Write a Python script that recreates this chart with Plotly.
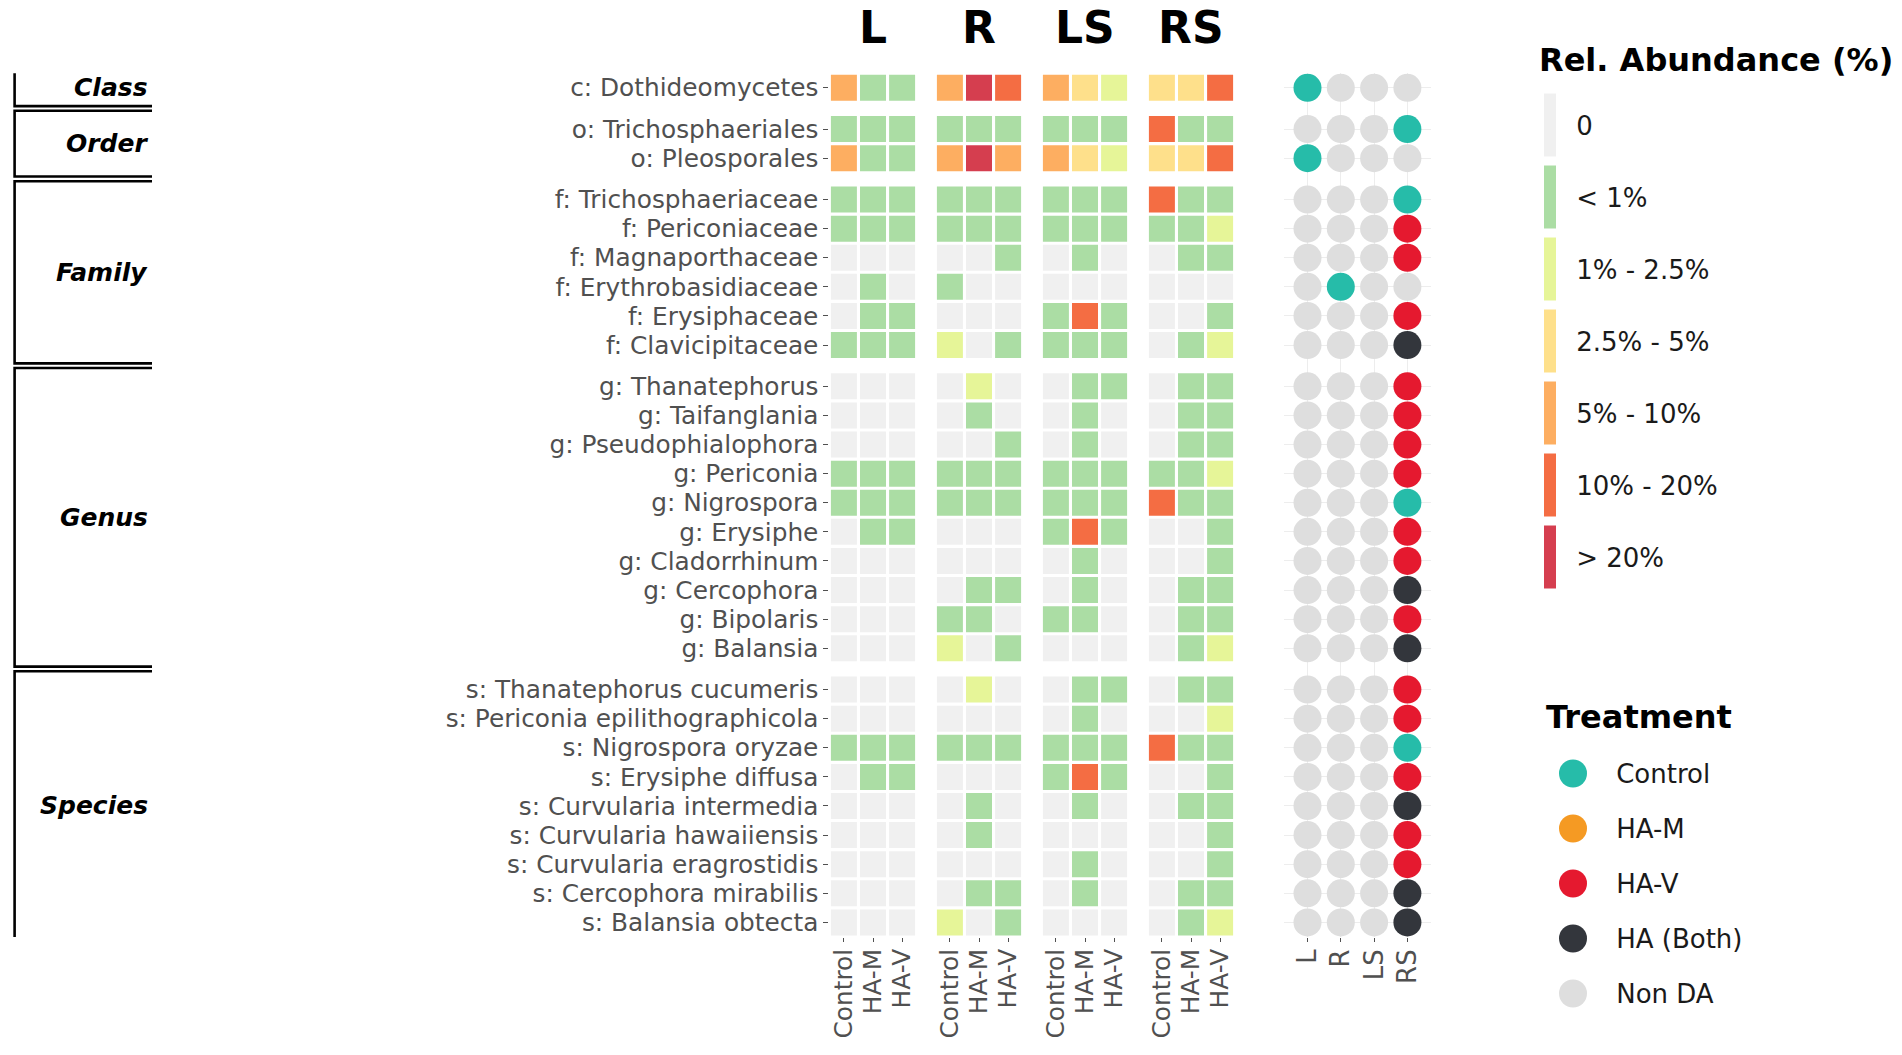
import plotly.graph_objects as go

# window is 1902x1055; body margin is removed by a post script
OFF = 0
FIG_W, FIG_H = 1902, 1055

# ---------------- data ----------------
rank_names = ["Class", "Order", "Family", "Genus", "Species"]
class_taxa = ["c: Dothideomycetes"]
order_taxa = ["o: Trichosphaeriales", "o: Pleosporales"]
family_taxa = ["f: Trichosphaeriaceae", "f: Periconiaceae", "f: Magnaporthaceae",
               "f: Erythrobasidiaceae", "f: Erysiphaceae", "f: Clavicipitaceae"]
genus_taxa = ["g: Thanatephorus", "g: Taifanglania", "g: Pseudophialophora", "g: Periconia",
              "g: Nigrospora", "g: Erysiphe", "g: Cladorrhinum", "g: Cercophora",
              "g: Bipolaris", "g: Balansia"]
species_taxa = ["s: Thanatephorus cucumeris", "s: Periconia epilithographicola",
                "s: Nigrospora oryzae", "s: Erysiphe diffusa", "s: Curvularia intermedia",
                "s: Curvularia hawaiiensis", "s: Curvularia eragrostidis",
                "s: Cercophora mirabilis", "s: Balansia obtecta"]

compartments = ["L", "R", "LS", "RS"]
treatments = ["Control", "HA-M", "HA-V"]
abundance_labels = ["0", "< 1%", "1% - 2.5%", "2.5% - 5%", "5% - 10%", "10% - 20%", "> 20%"]
treatment_labels = ["Control", "HA-M", "HA-V", "HA (Both)", "Non DA"]

# abundance class index (0..6) per taxon row, [Control, HA-M, HA-V]
abund_L = [[4, 1, 1], [1, 1, 1], [4, 1, 1], [1, 1, 1], [1, 1, 1], [0, 0, 0], [0, 1, 0],
           [0, 1, 1], [1, 1, 1], [0, 0, 0], [0, 0, 0], [0, 0, 0], [1, 1, 1], [1, 1, 1],
           [0, 1, 1], [0, 0, 0], [0, 0, 0], [0, 0, 0], [0, 0, 0], [0, 0, 0], [0, 0, 0],
           [1, 1, 1], [0, 1, 1], [0, 0, 0], [0, 0, 0], [0, 0, 0], [0, 0, 0], [0, 0, 0]]
abund_R = [[4, 6, 5], [1, 1, 1], [4, 6, 4], [1, 1, 1], [1, 1, 1], [0, 0, 1], [1, 0, 0],
           [0, 0, 0], [2, 0, 1], [0, 2, 0], [0, 1, 0], [0, 0, 1], [1, 1, 1], [1, 1, 1],
           [0, 0, 0], [0, 0, 0], [0, 1, 1], [1, 1, 0], [2, 0, 1], [0, 2, 0], [0, 0, 0],
           [1, 1, 1], [0, 0, 0], [0, 1, 0], [0, 1, 0], [0, 0, 0], [0, 1, 1], [2, 0, 1]]
abund_LS = [[4, 3, 2], [1, 1, 1], [4, 3, 2], [1, 1, 1], [1, 1, 1], [0, 1, 0], [0, 0, 0],
            [1, 5, 1], [1, 1, 1], [0, 1, 1], [0, 1, 0], [0, 1, 0], [1, 1, 1], [1, 1, 1],
            [1, 5, 1], [0, 1, 0], [0, 1, 0], [1, 1, 0], [0, 0, 0], [0, 1, 1], [0, 1, 0],
            [1, 1, 1], [1, 5, 1], [0, 1, 0], [0, 0, 0], [0, 1, 0], [0, 1, 0], [0, 0, 0]]
abund_RS = [[3, 3, 5], [5, 1, 1], [3, 3, 5], [5, 1, 1], [1, 1, 2], [0, 1, 1], [0, 0, 0],
            [0, 0, 1], [0, 1, 2], [0, 1, 1], [0, 1, 1], [0, 1, 1], [1, 1, 2], [5, 1, 1],
            [0, 0, 1], [0, 0, 1], [0, 1, 1], [0, 1, 1], [0, 1, 2], [0, 1, 1], [0, 0, 2],
            [5, 1, 1], [0, 0, 1], [0, 1, 1], [0, 0, 1], [0, 0, 1], [0, 1, 1], [0, 1, 2]]

N = "Non DA"
da_L = ["Control", N, "Control"] + [N] * 25
da_R = [N] * 6 + ["Control"] + [N] * 21
da_LS = [N] * 28
da_RS = [N, "Control", N, "Control", "HA-V", "HA-V", N, "HA-V", "HA (Both)",
         "HA-V", "HA-V", "HA-V", "HA-V", "Control", "HA-V", "HA-V", "HA (Both)", "HA-V",
         "HA (Both)", "HA-V", "HA-V", "Control", "HA-V", "HA (Both)", "HA-V", "HA-V",
         "HA (Both)", "HA (Both)"]

abund_by_comp = [abund_L, abund_R, abund_LS, abund_RS]
da_by_comp = [da_L, da_R, da_LS, da_RS]

# ---------------- styles ----------------
abundance_colors = ["#F0F0F0", "#ABDDA4", "#E6F598", "#FEE08B", "#FDAE61", "#F46D43", "#D53E4F"]
treatment_colors = {"Control": "#26BCA9", "HA-M": "#F59A23", "HA-V": "#E5192F",
                    "HA (Both)": "#33363C", "Non DA": "#DEDEDE"}
FONT = "DejaVu Sans"
TICK_GREY = "#505050"

GROUP_GAP = 0.42
PITCH = 29.1           # px per row
ROW0_PX = 87.8         # centre of first row (window px)


def px_x(v):
    return (v - OFF) / FIG_W


def px_y(v):
    return 1 - (v - OFF) / FIG_H


# row positions (row units, with gaps between rank groups)
rank_taxa = [class_taxa, order_taxa, family_taxa, genus_taxa, species_taxa]
taxa, ypos, group_bounds = [], [], []
p = 0.0
for gi, group in enumerate(rank_taxa):
    if gi > 0:
        p += GROUP_GAP
    start = p
    for t in group:
        taxa.append(t)
        ypos.append(p)
        p += 1
    group_bounds.append((start, p - 1))
ymax = ypos[-1]
y_top_px = ROW0_PX - 0.5 * PITCH
y_bot_px = y_top_px + (ymax + 1) * PITCH
ydomain = [px_y(y_bot_px), px_y(y_top_px)]
yrange = [ymax + 0.5, -0.5]

panel_centres = [873, 979, 1085, 1191]
panel_w = 3 * PITCH

fig = go.Figure()

# heatmap tiles
for ci, comp in enumerate(compartments):
    xs, ys, cs = [], [], []
    for ri, row in enumerate(abund_by_comp[ci]):
        for ti, val in enumerate(row):
            xs.append(treatments[ti])
            ys.append(ypos[ri])
            cs.append(abundance_colors[val])
    fig.add_trace(go.Scatter(
        x=xs, y=ys, mode="markers",
        marker=dict(symbol="square", size=26, color=cs, line=dict(width=0)),
        xaxis="x" if ci == 0 else f"x{ci + 1}", yaxis="y",
        showlegend=False, hoverinfo="skip"))

# DA dots
for ci, comp in enumerate(compartments):
    fig.add_trace(go.Scatter(
        x=[comp] * len(taxa), y=ypos, mode="markers",
        marker=dict(size=28, color=[treatment_colors[s] for s in da_by_comp[ci]],
                    line=dict(width=0)),
        xaxis="x5", yaxis="y2", showlegend=False, hoverinfo="skip"))

# abundance legend (discrete bars)
cscale = []
for k, c in enumerate(abundance_colors):
    cscale.append([k / 7, c])
    cscale.append([(k + 1) / 7, c])
fig.add_trace(go.Heatmap(
    z=[[k] for k in range(len(abundance_labels))], x=[0], y=abundance_labels,
    colorscale=cscale, zmin=-0.5, zmax=6.5, showscale=False, ygap=9,
    xaxis="x6", yaxis="y3", hoverinfo="skip"))

# treatment legend
fig.add_trace(go.Scatter(
    x=[0] * len(treatment_labels), y=treatment_labels, mode="markers",
    marker=dict(size=28, color=[treatment_colors[t] for t in treatment_labels]),
    xaxis="x7", yaxis="y4", showlegend=False, hoverinfo="skip"))

layout = dict(
    width=FIG_W, height=FIG_H, autosize=False,
    margin=dict(l=0, r=0, t=0, b=0),
    paper_bgcolor="white", plot_bgcolor="white",
    font=dict(family=FONT, color=TICK_GREY),
)

ytickfont = dict(family=FONT, size=24.8, color=TICK_GREY)
xtickfont = dict(family=FONT, size=24.8, color=TICK_GREY)
dtickfont = dict(family=FONT, size=26, color=TICK_GREY)
for ci in range(4):
    key = "xaxis" if ci == 0 else f"xaxis{ci + 1}"
    c = panel_centres[ci]
    layout[key] = dict(
        domain=[px_x(c - panel_w / 2), px_x(c + panel_w / 2)],
        anchor="y", range=[-0.5, 2.5], type="category",
        tickmode="array", tickvals=treatments, ticktext=treatments,
        tickangle=-90, ticks="outside", ticklen=4, tickcolor=TICK_GREY,
        ticklabelstandoff=-3,
        tickfont=xtickfont, showgrid=False, zeroline=False, showline=False,
        automargin=False)

layout["yaxis"] = dict(
    domain=ydomain, range=yrange, anchor="x",
    tickmode="array", tickvals=ypos, ticktext=taxa, tickfont=ytickfont,
    ticks="outside", ticklen=5, tickcolor=TICK_GREY,
    showgrid=False, zeroline=False, showline=False, automargin=False)

# dot panel axes
dot_pitch = 33.3
dot_first = 1307.5
layout["xaxis5"] = dict(
    domain=[px_x(dot_first - 0.7 * dot_pitch), px_x(dot_first + 3.7 * dot_pitch)],
    anchor="y2", range=[-0.7, 3.7], type="category",
    tickmode="array", tickvals=compartments, ticktext=compartments,
    tickangle=-90, ticks="outside", ticklen=4, tickcolor=TICK_GREY,
    ticklabelstandoff=-3,
    tickfont=dtickfont, showgrid=True, gridcolor="#EDEDED", gridwidth=1,
    zeroline=False, showline=False, automargin=False)
layout["yaxis2"] = dict(
    domain=ydomain, range=yrange, anchor="x5", matches="y",
    tickmode="array", tickvals=ypos, showticklabels=False, ticks="",
    showgrid=True, gridcolor="#EDEDED", gridwidth=1,
    zeroline=False, showline=False, automargin=False)

# abundance legend axes
layout["xaxis6"] = dict(domain=[px_x(1544), px_x(1556)], anchor="y3", range=[-0.5, 0.5],
                        visible=False)
layout["yaxis3"] = dict(
    domain=[px_y(89.5 + 7 * 72), px_y(89.5)], anchor="x6", side="right",
    type="category", range=[6.5, -0.5],
    ticks="outside", ticklen=14, tickcolor="rgba(0,0,0,0)",
    tickfont=dict(family=FONT, size=26, color="#1A1A1A"),
    showgrid=False, zeroline=False, showline=False, automargin=False)

# treatment legend axes
layout["xaxis7"] = dict(domain=[px_x(1559), px_x(1587)], anchor="y4", range=[-0.5, 0.5],
                        visible=False)
layout["yaxis4"] = dict(
    domain=[px_y(746 + 5 * 55), px_y(746)], anchor="x7", side="right",
    type="category", range=[4.5, -0.5],
    ticks="outside", ticklen=23, tickcolor="rgba(0,0,0,0)",
    tickfont=dict(family=FONT, size=26, color="#1A1A1A"),
    showgrid=False, zeroline=False, showline=False, automargin=False)

annotations = []
# strip titles
for ci, comp in enumerate(compartments):
    annotations.append(dict(
        text=comp, xref="x domain" if ci == 0 else f"x{ci + 1} domain", x=0.5,
        yref="paper", y=px_y(27), xanchor="center", yanchor="middle", showarrow=False,
        font=dict(family=FONT, size=44, color="black", weight="bold")))
# legend titles
annotations.append(dict(text="Rel. Abundance (%)", xref="paper", yref="paper",
                        x=px_x(1537), y=px_y(60), xanchor="left", yanchor="middle",
                        showarrow=False,
                        font=dict(family=FONT, size=32, color="black", weight="bold")))
annotations.append(dict(text="Treatment", xref="paper", yref="paper",
                        x=px_x(1544), y=px_y(717), xanchor="left", yanchor="middle",
                        showarrow=False,
                        font=dict(family=FONT, size=32, color="black", weight="bold")))

# rank group boxes
shapes = []
box_x0, box_x1 = px_x(14.6), px_x(152)
pad = 0.13
for name, (a, b) in zip(rank_names, group_bounds):
    top, bot = a - 0.5 - pad, b + 0.5 + pad
    shapes.append(dict(type="path", xref="paper", yref="y",
                       path=f"M {box_x1},{top} L {box_x0},{top} L {box_x0},{bot} L {box_x1},{bot}",
                       line=dict(color="black", width=2.6)))
    annotations.append(dict(text=name, xref="paper", yref="y", x=px_x(150), y=(a + b) / 2,
                            xanchor="right", yanchor="middle", showarrow=False,
                            font=dict(family=FONT, size=25, color="black",
                                      weight="bold", style="italic")))

layout["annotations"] = annotations
layout["shapes"] = shapes
fig.update_layout(**layout)

fig.write_html("out.html",
               config={"displayModeBar": False},
               post_script="document.body.style.margin='0';"
                           "document.body.style.overflow='hidden';")
